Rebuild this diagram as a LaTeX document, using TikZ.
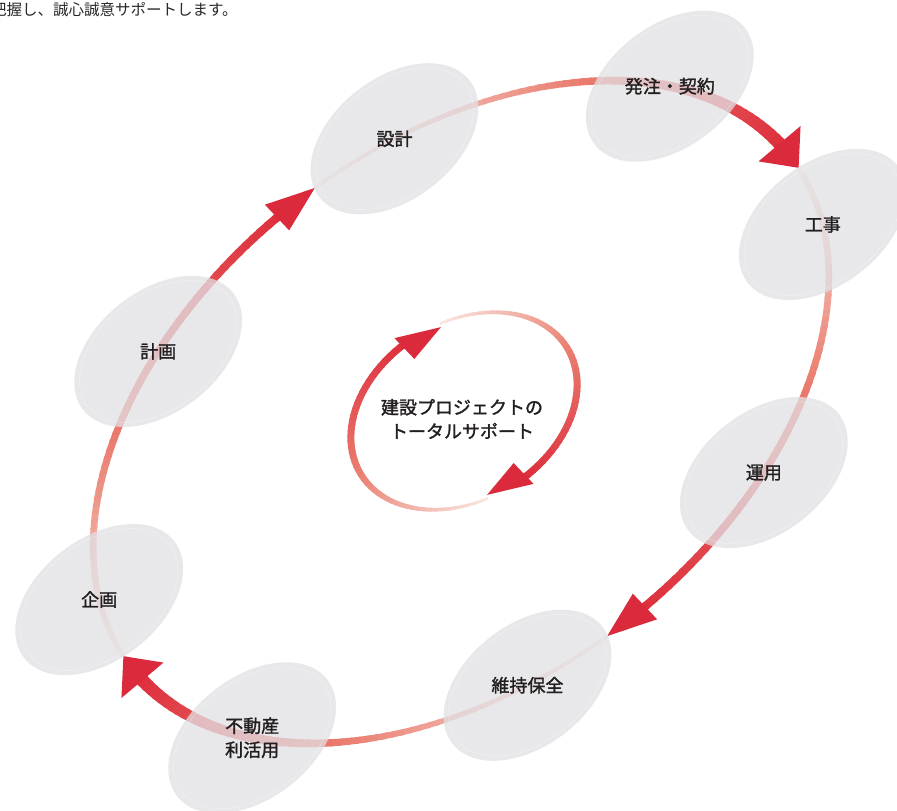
\documentclass[tikz,border=0pt]{standalone}
\usepackage{fontspec}
\newfontfamily\jplab{Noto Sans CJK JP}[FakeBold=1.6]
\newfontfamily\jpreg{Noto Sans CJK JP}
\definecolor{ringS}{RGB}{249,232,224}
\definecolor{ringM}{RGB}{234,125,112}
\definecolor{ringE}{RGB}{221,46,60}
\definecolor{arrowred}{RGB}{219,42,60}
\definecolor{blobgrey}{RGB}{225,225,229}
\definecolor{labeltext}{RGB}{35,31,32}
\definecolor{toptext}{RGB}{40,40,40}

% gradient band along a unit circle (in a scaled frame)
\newcommand\gradarc[5]{%
  \foreach \gi in {1,...,#3}{%
    \pgfmathsetmacro\gpA{(\gi-1)/#3}%
    \pgfmathsetmacro\gpB{\gi/#3}%
    \pgfmathsetmacro\gpM{(\gi-0.5)/#3}%
    \pgfmathsetmacro\gtA{#1+(#2-#1)*\gpA}%
    \pgfmathsetmacro\gtB{#1+(#2-#1)*\gpB-0.5}%
    \pgfmathsetmacro\griA{1-(#4+(#5-#4)*\gpA)/2}%
    \pgfmathsetmacro\groA{1+(#4+(#5-#4)*\gpA)/2}%
    \pgfmathsetmacro\griB{1-(#4+(#5-#4)*\gpB)/2}%
    \pgfmathsetmacro\groB{1+(#4+(#5-#4)*\gpB)/2}%
    \ifdim\gpM pt<0.5pt
      \pgfmathsetmacro\gq{200*\gpM}\colorlet{segc}{ringM!\gq!ringS}%
    \else
      \pgfmathsetmacro\gq{200*\gpM-100}\colorlet{segc}{ringE!\gq!ringM}%
    \fi
    \fill[segc] (\gtA:\griA) -- (\gtA:\groA) -- (\gtB:\groB) -- (\gtB:\griB) -- cycle;
  }}
% arrowhead: tip angle, length (deg), half width, radius
\newcommand\arrowhd[4]{%
  \fill[arrowred] (#1:#4) -- ({#1+#2}:{#4+#3}) -- ({#1+#2}:{#4-#3}) -- cycle;}

\tikzset{
  blob/.style={fill=blobgrey, fill opacity=0.75},
  blobline/.style={draw=white, line width=0.4pt, draw opacity=0.45},
  steplabel/.style={font=\jplab\fontsize{18}{24}\selectfont, text=labeltext, align=center, inner sep=0pt},
}

\begin{document}
\begin{tikzpicture}[x=1pt,y=1pt]
\fill[white] (0,0) rectangle (897,-811);
\useasboundingbox (0,0) rectangle (897,-811);

% big ring
\begin{scope}[shift={(461,-412)}, rotate=37.8, xscale=417, yscale=267]
  \gradarc{87}{2.6}{60}{0.013}{0.031}
  \gradarc{-3}{-87.4}{60}{0.013}{0.031}
  \gradarc{-93}{-177.4}{60}{0.013}{0.031}
  \gradarc{177}{92.6}{60}{0.013}{0.031}
  \arrowhd{-3}{6.6}{0.066}{1}
  \arrowhd{-93}{6.6}{0.066}{1}
  \arrowhd{-183}{6.6}{0.066}{1}
  \arrowhd{87}{6.6}{0.066}{1}
  \foreach \ang/\nm in {74/sekkei,29/hatchu,-16/koji,-61/unyo,-106/iji,-151/fudosan,164/kikaku,119/keikaku}{
    \fill[blob] (\ang:1) circle [radius=0.228];
    \draw[blobline] (\ang:1) circle [radius=0.214];
    \coordinate (c-\nm) at (\ang:1);
  }
\end{scope}

\node[steplabel] (sekkei) at (c-sekkei) {設計};
\node[steplabel] (hatchu) at (c-hatchu) {発注・契約};
\node[steplabel] (koji) at (c-koji) {工事};
\node[steplabel] (unyo) at (c-unyo) {運用};
\node[steplabel] (iji) at (c-iji) {維持保全};
\node[steplabel] (fudosan) at (c-fudosan) {不動産\\利活用};
\node[steplabel] (kikaku) at (c-kikaku) {企画};
\node[steplabel] (keikaku) at (c-keikaku) {計画};

% small central ring
\begin{scope}[shift={(464,-411)}, rotate=31.5, xscale=121, yscale=89]
  \gradarc{258}{97}{50}{0.03}{0.08}
  \gradarc{78}{-83}{50}{0.03}{0.08}
  \arrowhd{78}{21}{0.16}{0.96}
  \arrowhd{-102}{21}{0.16}{0.96}
\end{scope}
\node[steplabel] (center) at (462,-419) {建設プロジェクトの\\トータルサポート};

% cut-off top line
\node[anchor=base west, inner sep=0pt, font=\jpreg\fontsize{15.5}{18}\selectfont, text=toptext] (toptxt) at (-9,-16) {把握し、誠心誠意サポートします。};
\end{tikzpicture}
\end{document}
